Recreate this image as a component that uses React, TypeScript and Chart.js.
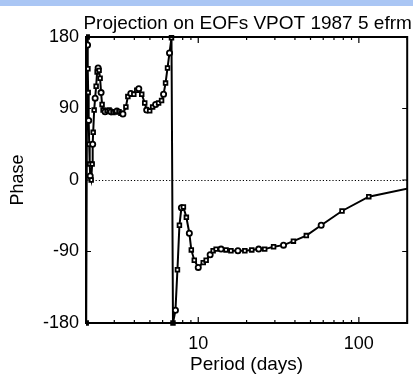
import { useEffect, useRef } from 'react';
import { Chart, registerables } from 'chart.js';

Chart.register(...registerables);

const TITLE = 'Projection on EOFs VPOT 1987 5 efrm';
const X_LABEL = 'Period (days)';
const Y_LABEL = 'Phase';

// Period (days) of each point
const PERIODS = [
  2.006, 2.035, 2.045, 2.056, 2.064, 2.079, 2.094, 2.109, 2.124, 2.154,
  2.185, 2.201, 2.217, 2.248, 2.28, 2.313, 2.346, 2.379, 2.413, 2.448,
  2.483, 2.519, 2.555, 2.63, 2.705, 2.783, 2.863, 2.945, 3.03, 3.117,
  3.208, 3.3, 3.395, 3.543, 3.645, 3.804, 3.97, 4.142, 4.263, 4.447,
  4.642, 4.775, 4.983, 5.2, 5.427, 5.663, 5.91, 6.081, 6.257, 6.437,
  6.622, 6.813, 6.96, 7.211, 7.42, 7.634, 7.855, 8.082, 8.433, 8.8,
  9.053, 9.448, 10.0, 10.74, 11.2, 11.86, 12.38, 12.92, 13.87, 14.89,
  15.98, 17.66, 19.5, 21.54, 23.79, 25.92, 29.45, 33.95, 39.14, 47.09,
  58.27, 78.55, 115.3, 234,
];

// Phase (degrees) of each point
const PHASES = [
  -180, 180, 170, 140, 110, 75, 45, 20, 5, 0,
  20, 45, 60, 88, 103, 118, 136, 141, 138, 128,
  110, 95, 88, 86, 87, 88, 86, 85, 86, 87,
  86, 84, 83, 92, 105, 109, 108, 113, 115, 108,
  97, 88, 87, 92, 95, 97, 100, 108, 122, 141,
  160, 179, -180, -164, -113, -57, -35, -34, -47, -67,
  -88, -101, -110, -104, -101, -94, -89, -87, -87, -88,
  -89, -89, -89, -88, -87, -87, -84, -82, -77, -70,
  -57, -39, -21, -8,
];

const X_MIN = 2;
const X_MAX = 200;
const X_TICKS = [10, 100];
const X_MINOR = [2, 3, 4, 5, 6, 7, 8, 9, 20, 30, 40, 50, 60, 70, 80, 90, 200];
const Y_MIN = -180;
const Y_MAX = 180;
const Y_TICKS = [-180, -90, 0, 90, 180];

const FONT = "'Liberation Sans', Arial, sans-serif";

const decorPlugin = {
  id: 'decor',
  beforeDraw(chart: any) {
    const { ctx, width, height } = chart;
    ctx.save();
    ctx.fillStyle = '#ffffff';
    ctx.fillRect(0, 0, width, height);
    ctx.fillStyle = '#aac6f4';
    ctx.fillRect(0, 0, width, 6);
    ctx.restore();
  },
  beforeDatasetsDraw(chart: any) {
    const { ctx, chartArea } = chart;
    const y = chart.scales.y.getPixelForValue(0);
    ctx.save();
    ctx.strokeStyle = '#000';
    ctx.lineWidth = 1.2;
    ctx.setLineDash([1.2, 2]);
    ctx.beginPath();
    ctx.moveTo(chartArea.left, Math.round(y) + 0.5);
    ctx.lineTo(chartArea.right, Math.round(y) + 0.5);
    ctx.stroke();
    ctx.restore();
  },
  afterDraw(chart: any) {
    const { ctx, chartArea } = chart;
    const { left, right, top, bottom } = chartArea;
    const xs = chart.scales.x;
    const ys = chart.scales.y;
    ctx.save();
    ctx.strokeStyle = '#000';
    ctx.lineWidth = 2;
    ctx.strokeRect(left, top, right - left, bottom - top);
    ctx.lineWidth = 1.2;
    ctx.beginPath();
    for (const v of X_MINOR) {
      const px = xs.getPixelForValue(v);
      ctx.moveTo(px, bottom);
      ctx.lineTo(px, bottom - 3);
      ctx.moveTo(px, top);
      ctx.lineTo(px, top + 3);
    }
    for (const v of X_TICKS) {
      const px = xs.getPixelForValue(v);
      ctx.moveTo(px, bottom);
      ctx.lineTo(px, bottom - 6);
      ctx.moveTo(px, top);
      ctx.lineTo(px, top + 6);
    }
    for (const v of Y_TICKS) {
      const py = ys.getPixelForValue(v);
      ctx.moveTo(left, py);
      ctx.lineTo(left + 5, py);
      ctx.moveTo(right, py);
      ctx.lineTo(right - 5, py);
    }
    ctx.stroke();
    ctx.fillStyle = '#000';
    ctx.font = `19px ${FONT}`;
    ctx.textAlign = 'center';
    ctx.textBaseline = 'alphabetic';
    ctx.fillText(TITLE, (left + right) / 2 + 1, 29);
    ctx.restore();
  },
};

export default function App() {
  const ref = useRef<HTMLCanvasElement | null>(null);

  useEffect(() => {
    if (!ref.current) return;
    const points = PERIODS.map((p, i) => ({ x: p, y: PHASES[i] }));
    const chart = new Chart(ref.current, {
      type: 'line',
      data: {
        datasets: [
          {
            data: points,
            borderColor: '#000',
            borderWidth: 2,
            backgroundColor: '#fff',
            pointBackgroundColor: '#fff',
            pointBorderColor: '#000',
            pointBorderWidth: 1.8,
            pointRadius: 2.6,
            pointStyle: (ctx: any) => (ctx.dataIndex % 3 === 2 ? 'circle' : 'rect'),
            tension: 0,
            clip: { left: 0, right: 0, top: 6, bottom: 6 } as any,
          },
        ],
      },
      options: {
        animation: false,
        responsive: false,
        devicePixelRatio: 1,
        layout: { padding: { top: 37, right: 4, left: 0, bottom: 0 } },
        plugins: {
          legend: { display: false },
          tooltip: { enabled: false },
          title: { display: false },
        },
        scales: {
          x: {
            type: 'logarithmic',
            min: X_MIN,
            max: X_MAX,
            grid: { display: false, drawTicks: false },
            border: { display: false },
            afterBuildTicks: (s: any) => {
              s.ticks = X_TICKS.map((v) => ({ value: v }));
            },
            afterFit: (s: any) => {
              s.height = 55;
            },
            ticks: {
              color: '#000',
              font: { family: FONT, size: 18 },
              padding: 10,
              autoSkip: false,
              maxRotation: 0,
              callback: (v: any) => String(v),
            },
            title: {
              display: true,
              text: X_LABEL,
              color: '#000',
              font: { family: FONT, size: 19 },
              padding: { top: 0, bottom: 2 },
            },
          },
          y: {
            type: 'linear',
            min: Y_MIN,
            max: Y_MAX,
            grid: { display: false, drawTicks: false },
            border: { display: false },
            afterBuildTicks: (s: any) => {
              s.ticks = Y_TICKS.map((v) => ({ value: v }));
            },
            afterFit: (s: any) => {
              s.width = 86;
            },
            ticks: {
              color: '#000',
              font: { family: FONT, size: 18 },
              padding: 7,
              callback: (v: any) => String(v),
            },
            title: {
              display: true,
              text: Y_LABEL,
              color: '#000',
              font: { family: FONT, size: 18 },
              padding: { top: 7, bottom: 0 },
            },
          },
        },
      },
      plugins: [decorPlugin],
    });
    return () => chart.destroy();
  }, []);

  return (
    <div style={{ position: 'fixed', left: 0, top: 0, width: 413, height: 378 }}>
      <canvas ref={ref} width={413} height={378} style={{ display: 'block' }} />
    </div>
  );
}
